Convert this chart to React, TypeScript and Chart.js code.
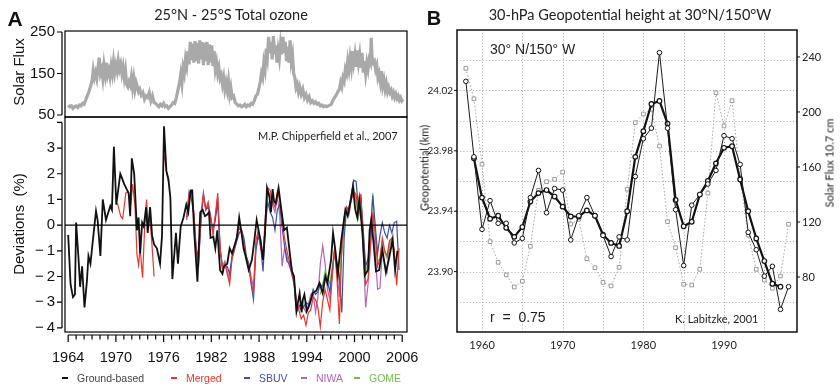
import React, { useEffect, useRef } from 'react';
import { Chart, registerables } from 'chart.js';
Chart.register(...registerables);

const HF = '"Liberation Sans", Arial, Helvetica, sans-serif';
const MF = 'Lato, "Open Sans", sans-serif';

// ---------- Panel A (top): solar flux ----------
const fluxYearsA = [1964.0,1964.2,1964.4,1964.6,1964.8,1965.0,1965.2,1965.4,1965.6,1965.8,1966.0,1966.2,1966.4,1966.6,1966.8,1967.0,1967.15,1967.3,1967.45,1967.6,1967.75,1967.9,1968.05,1968.2,1968.35,1968.5,1968.65,1968.8,1968.95,1969.1,1969.25,1969.4,1969.55,1969.7,1969.85,1970.0,1970.15,1970.3,1970.45,1970.6,1970.75,1970.9,1971.05,1971.2,1971.35,1971.5,1971.65,1971.8,1971.95,1972.1,1972.25,1972.4,1972.55,1972.7,1972.85,1973.0,1973.2,1973.4,1973.6,1973.8,1974.0,1974.2,1974.4,1974.6,1974.8,1975.0,1975.2,1975.4,1975.6,1975.8,1976.0,1976.2,1976.4,1976.6,1976.8,1977.0,1977.2,1977.4,1977.6,1977.8,1978.0,1978.15,1978.3,1978.45,1978.6,1978.75,1978.9,1979.05,1979.2,1979.35,1979.5,1979.65,1979.8,1979.95,1980.1,1980.25,1980.4,1980.55,1980.7,1980.85,1981.0,1981.15,1981.3,1981.45,1981.6,1981.75,1981.9,1982.05,1982.2,1982.35,1982.5,1982.65,1982.8,1982.95,1983.1,1983.25,1983.4,1983.55,1983.7,1983.85,1984.0,1984.15,1984.3,1984.45,1984.6,1984.8,1985.0,1985.2,1985.4,1985.6,1985.8,1986.0,1986.2,1986.4,1986.6,1986.8,1987.0,1987.2,1987.4,1987.6,1987.8,1988.0,1988.15,1988.3,1988.45,1988.6,1988.75,1988.9,1989.05,1989.2,1989.35,1989.5,1989.65,1989.8,1989.95,1990.1,1990.25,1990.4,1990.55,1990.7,1990.85,1991.0,1991.15,1991.3,1991.45,1991.6,1991.75,1991.9,1992.05,1992.2,1992.35,1992.5,1992.65,1992.8,1992.95,1993.1,1993.3,1993.5,1993.7,1993.9,1994.1,1994.3,1994.5,1994.7,1994.9,1995.1,1995.3,1995.5,1995.7,1995.9,1996.1,1996.3,1996.5,1996.7,1996.9,1997.1,1997.3,1997.5,1997.7,1997.9,1998.1,1998.25,1998.4,1998.55,1998.7,1998.85,1999.0,1999.15,1999.3,1999.45,1999.6,1999.75,1999.9,2000.05,2000.2,2000.35,2000.5,2000.65,2000.8,2000.95,2001.1,2001.25,2001.4,2001.55,2001.7,2001.85,2002.0,2002.1,2002.2,2002.35,2002.5,2002.65,2002.8,2002.95,2003.1,2003.25,2003.4,2003.55,2003.7,2003.85,2004.0,2004.15,2004.3,2004.45,2004.6,2004.75,2004.9,2005.05,2005.2,2005.35,2005.5,2005.65,2005.8,2005.95,2006.1];
const fluxValsA = [74,70,72,66,70,72,68,74,72,78,76,86,96,106,118,132,158,140,152,138,164,188,150,160,138,170,148,176,146,158,142,168,150,178,152,170,156,180,160,172,150,166,140,158,124,118,130,122,142,116,138,112,128,118,106,112,98,104,88,96,92,104,84,96,80,78,74,70,76,72,78,70,72,66,70,74,80,78,92,110,128,148,126,164,150,184,168,204,172,226,182,222,176,228,180,224,174,230,184,226,170,224,180,226,170,220,176,218,168,204,160,176,150,164,138,146,124,140,112,128,110,132,100,116,92,96,80,76,72,74,70,72,76,70,74,72,78,76,84,96,100,116,130,150,140,176,160,210,190,238,200,226,184,240,196,218,176,206,186,220,196,238,200,226,180,214,176,230,180,196,150,140,116,124,106,118,100,112,92,100,86,94,80,84,78,82,76,78,72,74,70,72,70,72,74,76,86,92,98,106,112,128,118,140,132,160,150,180,160,188,166,204,176,196,166,206,176,196,164,200,152,180,150,176,160,184,176,236,190,176,180,160,170,140,150,130,156,120,134,112,126,106,116,104,110,96,104,92,100,90,96,86,92,84,88];
const fluxTicksA = [50, 150, 250];

// ---------- Panel A (bottom): ozone deviations ----------
const gbYears = [1964.0,1964.3,1964.6,1964.85,1965.0,1965.3,1965.5,1965.75,1966.05,1966.35,1966.55,1966.8,1967.1,1967.5,1967.7,1968.05,1968.35,1968.75,1969.0,1969.3,1969.5,1969.75,1970.05,1970.55,1970.8,1971.05,1971.35,1971.6,1971.8,1972.0,1972.3,1972.65,1972.85,1973.05,1973.3,1973.5,1973.8,1974.0,1974.3,1974.55,1974.8,1975.15,1975.55,1975.8,1976.05,1976.35,1976.6,1976.85,1977.1,1977.55,1977.8,1978.15,1978.5,1978.85,1979.1,1979.4,1979.6,1979.85,1980.25,1980.6,1980.9,1981.2,1981.45,1981.7,1981.9,1982.25,1982.5,1982.75,1983.1,1983.4,1983.6,1984.0,1984.3,1984.6,1985.2,1985.5,1985.75,1986.05,1986.3,1986.7,1987.1,1987.4,1987.7,1988.0,1988.2,1988.5,1988.75,1989.0,1989.3,1989.5,1989.7,1989.9,1990.1,1990.45,1990.8,1991.15,1991.5,1991.9,1992.15,1992.4,1992.7,1993.1,1993.35,1993.5,1993.7,1994.0,1994.35,1994.75,1995.2,1995.6,1996.0,1996.35,1996.6,1997.05,1997.3,1997.6,1997.9,1998.1,1998.35,1998.85,1999.15,1999.6,1999.8,2000.1,2000.35,2000.6,2001.0,2001.3,2001.7,2001.9,2002.1,2002.4,2002.7,2003.1,2003.5,2003.95,2004.4,2004.8,2005.1,2005.4];
const gbVals = [-0.38,-2.3,-2.8,-2.7,0.1,-1.3,-2.4,-1.6,-3.2,-2.2,-1.2,-1.5,-0.6,0.55,0.2,-1.2,1.0,0.2,0.45,0.75,0.6,3.05,0.8,2.0,1.8,1.6,1.4,1.25,0.35,2.6,2.0,-0.2,0.3,-1.1,0.1,-0.05,0.7,-0.3,0.7,-0.4,-0.75,-0.9,-1.5,-0.4,3.85,2.1,1.8,1.05,-2.1,-0.3,-1.5,-0.05,0.3,0.8,0.5,1.35,1.35,-0.3,-2.2,0.5,0.6,0.35,0.4,0.5,-0.5,-0.45,-0.9,-0.2,-1.75,-1.9,-1.6,-1.5,-0.9,-1.1,-0.5,0.3,-0.2,-0.9,-1.2,-1.75,-1.35,-0.6,0.2,-0.3,-0.6,-1.35,-0.3,1.45,1.1,0.5,1.4,0.9,0.85,1.45,0.6,-0.2,-0.1,-1.2,-1.8,-2.0,-3.35,-2.65,-3.4,-2.9,-2.7,-3.35,-3.1,-2.65,-2.55,-2.25,-2.65,-2.0,-2.25,-1.35,-0.3,-1.0,-1.9,-1.3,-0.55,0.6,0.35,1.1,1.5,0.6,0.3,1.0,-0.3,-1.95,-1.75,-0.2,0.2,-0.7,-1.8,-1.75,-0.95,-1.85,-1.2,-0.55,-1.75,-1.0];

const satYears = [
  1978.9,1979.2,1979.5,1979.8,1980.1,1980.4,1980.7,1981.0,1981.3,1981.6,
  1981.9,1982.2,1982.5,1982.8,1983.1,1983.4,1983.7,1984.0,1984.3,1984.6,
  1984.9,1985.2,1985.5,1985.8,1986.1,1986.4,1986.7,1987.0,1987.3,1987.6,
  1987.9,1988.2,1988.5,1988.8,1989.1,1989.4,1989.7,1990.0,1990.3,1990.6,
  1990.9,1991.2,1991.5,1991.8,1992.1,1992.4,1992.7,1993.0,1993.3,1993.6,
  1993.9,1994.2,1994.5,1994.8,1995.1,1995.4,1995.7,1996.0,1996.3,1996.6,
  1996.9,1997.2,1997.5,1997.8,1998.1,1998.4,1998.7,1999.0,1999.3,1999.6,
  1999.9,2000.2,2000.5,2000.8,2001.1,2001.4,2001.7,2002.0,2002.3,2002.6,
  2002.9,2003.2,2003.5,2003.8,2004.1,2004.4,2004.7,2005.0,2005.3,2005.6];

const mergedEarlyYears = [1970.2,1970.6,1970.85,1971.25,1971.5,1971.9,1972.1,1972.4,1972.65,1972.85,1973.05,1973.35,1973.6,1973.85,1974.05,1974.25,1974.5,1974.8,1975.0,1976.05,1976.35,1976.6,1977.0];
const mergedEarlyVals = [0.85,0.35,0.25,1.25,1.3,0.9,1.6,0.75,-1.15,-1.55,-0.9,-2.05,-0.2,1.0,-0.05,0.3,-0.6,-2.0,null,2.75,2.1,1.7,null];
const mergedVals = [
  0.2,1.2,1.3,0.5,-1.0,-1.5,0.5,1.2,0.6,0.9,
  0.3,-0.3,0.4,1.25,-0.9,-1.7,-1.5,-1.9,-2.3,-1.3,
  -0.9,-0.4,-0.1,-0.3,-0.8,-1.3,-1.6,-2.2,-2.65,-0.6,
  -0.2,-0.9,-1.2,0.4,1.45,1.35,0.9,0.7,1.3,1.0,
  0.2,-0.5,-1.0,-1.4,-1.8,-2.2,-2.9,-3.3,-3.65,-3.5,
  -3.9,-3.4,-3.3,-2.8,-2.9,-3.2,-3.95,-3.0,-2.5,-2.9,
  -3.3,-2.0,-0.9,-2.1,-3.85,-0.8,0.3,0.7,0.5,1.0,
  1.3,1.2,0.5,1.2,-0.7,-2.3,-2.1,-0.8,0.5,-0.3,
  -1.6,-1.3,-0.5,-1.0,-1.2,-0.6,-0.5,-1.0,-2.35,-0.9];
const sbuvVals = [
  0.3,1.3,1.0,0.4,-0.9,-1.3,0.2,1.25,0.6,0.7,
  0.3,-0.2,0.2,0.9,-0.9,-1.7,-1.6,-1.6,-1.9,-1.2,
  -0.9,-0.6,-0.3,-0.2,-0.5,-1.2,-1.5,-2.3,-2.9,-1.0,
  -0.4,-0.8,-1.8,0.0,0.9,0.5,0.3,-0.2,0.6,0.8,
  -0.1,-0.8,-1.4,-1.5,-1.9,-2.3,-3.4,-3.2,-3.0,-3.2,
  -3.0,-3.1,-2.9,-2.5,-2.7,-2.6,-2.3,-2.4,-2.0,-2.2,
  -2.6,-1.8,-1.0,-1.5,-2.0,-3.4,-0.5,0.7,0.6,1.2,
  1.75,1.7,0.6,1.1,-0.2,-1.6,-1.3,-0.3,1.15,0.0,
  -1.1,-0.4,0.1,-0.3,-0.5,0.0,-0.3,0.1,0.15,-1.75];
const niwaVals = [
  0.3,1.1,1.2,0.4,-1.1,-1.5,0.2,1.1,0.6,0.8,
  0.4,-0.4,0.3,1.1,-0.9,-1.6,-1.4,-1.8,-2.1,-1.3,
  -1.0,-0.6,-0.3,-0.2,-0.7,-1.3,-1.5,-2.0,-2.4,-0.9,
  -0.3,-0.8,-1.3,0.2,1.3,1.2,0.8,0.5,1.1,0.4,
  -1.6,-0.9,-1.2,-1.6,-1.8,-2.2,-3.0,-3.2,-3.3,-3.2,
  -3.4,-3.1,-2.7,-2.6,-3.4,-2.8,-1.5,-0.8,-1.5,-2.5,
  -2.9,-1.9,-1.0,-1.8,-2.8,-1.0,0.1,0.6,0.4,1.0,
  1.3,1.0,0.4,0.9,-1.0,-3.2,-2.3,-0.9,0.4,-1.0,
  -2.5,-2.45,-1.0,-1.5,-1.8,-0.8,-0.6,-1.1,null,null];
const gomeYears = satYears.slice(56);
const gomeVals = [
  -2.7,-2.3,-1.8,-2.0,
  -2.3,-1.6,-0.9,-1.5,-2.2,-1.0,0.0,0.6,0.7,1.1,
  1.5,0.9,0.3,1.0,-0.4,-1.8,-1.5,-0.4,1.25,-0.2,
  -1.4,-1.3,-0.6,-1.1,-1.3,-0.7,-0.5,-1.0,null,null];
const devTicks = [-4, -3, -2, -1, 0, 1, 2, 3];
const yearTicksA = [1964, 1970, 1976, 1982, 1988, 1994, 2000, 2006];

// ---------- Panel B ----------
const yearsB = [1958,1959,1960,1961,1962,1963,1964,1965,1966,1967,1968,1969,1970,1971,1972,1973,1974,1975,1976,1977,1978,1979,1980,1981,1982,1983,1984,1985,1986,1987,1988,1989,1990,1991,1992,1993,1994,1995,1996,1997,1998];
const rawHeightB = [24.026,23.976,23.928,23.947,23.932,23.932,23.919,23.922,23.949,23.967,23.939,23.955,23.954,23.921,23.937,23.949,23.937,23.924,23.910,23.923,23.921,23.963,23.988,23.995,24.045,23.995,23.941,23.904,23.944,23.951,23.958,23.967,23.990,23.988,23.971,23.926,23.9145,23.897,23.9035,23.875,23.890];
const smoothYearsB = yearsB.slice(1, 40);
const smoothHeightB = [23.975,23.949,23.935,23.937,23.929,23.923,23.9295,23.9464,23.952,23.954,23.9497,23.943,23.9365,23.9365,23.9405,23.937,23.9244,23.919,23.917,23.940,23.976,23.993,24.011,24.013,23.998,23.9475,23.930,23.933,23.951,23.960,23.9717,23.982,23.983,23.961,23.940,23.922,23.907,23.892,23.890];
const fluxB = [231.7,209.6,162,105.7,90.7,81.5,72.7,76.9,102.3,143,149.3,151,156.3,118.5,122,93.3,86.8,76.1,73.5,87,143.8,192.2,198.5,201.9,175.2,120.2,101.3,74.7,74.2,85.6,141,214,189.8,208.2,152,110.5,85.6,77.8,71.8,80.7,118.3];
const heightTicksB = [23.90, 23.94, 23.98, 24.02];
const heightGridB = [23.88, 23.90, 23.92, 23.94, 23.96, 23.98, 24.00, 24.02, 24.04];
const fluxTicksB = [80, 120, 160, 200, 240];
const yearTicksB = [1960, 1970, 1980, 1990];
const yearGridB = [1960, 1965, 1970, 1975, 1980, 1985, 1990, 1995];

const pts = (xs: number[], ys: (number | null)[]) => xs.map((x, i) => ({ x, y: ys[i] }));
const minus = (v: number) => (v < 0 ? '\u2212\u2009' + Math.abs(v) : String(v));

const rAxisA = (ticks: number[], xTicks?: number[], zero?: boolean) => ({
  id: 'rAxis',
  afterDatasetsDraw(chart: any) {
    const { ctx, chartArea: { left, right, top, bottom }, scales } = chart;
    const y = scales.y, x = scales.x;
    ctx.save();
    ctx.strokeStyle = '#000';
    ctx.lineWidth = 1.2;
    ctx.strokeRect(left, top, right - left, bottom - top);
    if (zero) {
      const p = y.getPixelForValue(0);
      ctx.lineWidth = 1.4;
      ctx.beginPath(); ctx.moveTo(left, p); ctx.lineTo(right, p); ctx.stroke();
    }
    ctx.lineWidth = 1.2;
    const ax = left - 3;
    ctx.beginPath();
    ctx.moveTo(ax, y.getPixelForValue(ticks[0]));
    ctx.lineTo(ax, y.getPixelForValue(ticks[ticks.length - 1]));
    for (const v of ticks) {
      const p = y.getPixelForValue(v);
      ctx.moveTo(ax, p); ctx.lineTo(ax - 5, p);
    }
    ctx.stroke();
    if (xTicks) {
      const ay = bottom + 3;
      ctx.beginPath();
      ctx.moveTo(x.getPixelForValue(xTicks[0]), ay);
      ctx.lineTo(x.getPixelForValue(xTicks[xTicks.length - 1]), ay);
      for (let yr = xTicks[0]; yr <= xTicks[xTicks.length - 1]; yr++) {
        const p = x.getPixelForValue(yr);
        const major = xTicks.includes(yr);
        ctx.moveTo(p, ay); ctx.lineTo(p, ay + (major ? 7 : 4.5));
      }
      ctx.stroke();
    }
    ctx.restore();
  },
});

const gridB = {
  id: 'gridB',
  beforeDatasetsDraw(chart: any) {
    const { ctx, chartArea: { left, right, top, bottom }, scales: { x, y } } = chart;
    ctx.save();
    ctx.strokeStyle = '#a8a8a8';
    ctx.lineWidth = 1;
    ctx.setLineDash([1, 2.2]);
    ctx.beginPath();
    for (const v of yearGridB) { const p = Math.round(x.getPixelForValue(v)) + 0.5; ctx.moveTo(p, top); ctx.lineTo(p, bottom); }
    for (const v of heightGridB) { const p = Math.round(y.getPixelForValue(v)) + 0.5; ctx.moveTo(left, p); ctx.lineTo(right, p); }
    ctx.stroke();
    ctx.restore();
  },
  afterDatasetsDraw(chart: any) {
    const { ctx, chartArea: { left, right, top, bottom }, scales: { y, y2 } } = chart;
    ctx.save();
    ctx.strokeStyle = '#111';
    ctx.lineWidth = 1.5;
    ctx.strokeRect(left, top, right - left, bottom - top);
    ctx.lineWidth = 1;
    ctx.beginPath();
    for (const v of heightTicksB) { const p = y.getPixelForValue(v); ctx.moveTo(left, p); ctx.lineTo(left - 3, p); }
    for (const v of fluxTicksB) { const p = y2.getPixelForValue(v); ctx.moveTo(right, p); ctx.lineTo(right + 3, p); }
    ctx.stroke();
    ctx.restore();
  },
};

const setTicks = (vals: number[]) => (s: any) => { s.ticks = vals.map((v) => ({ value: v })); };
const noGrid = { display: false, drawTicks: false, tickLength: 0 };

function Txt(props: { x: number; y: number; children: any; style?: any; center?: boolean; rot?: boolean }) {
  const { x, y, children, style, center, rot } = props;
  const tr = rot ? 'translate(-50%,-50%) rotate(-90deg)' : center ? 'translate(-50%,-50%)' : 'translate(0,-50%)';
  return (
    <div style={{ position: 'absolute', left: x, top: y, transform: tr, whiteSpace: 'pre', lineHeight: 1, ...style }}>
      {children}
    </div>
  );
}

export default function App() {
  const a1 = useRef<HTMLCanvasElement>(null);
  const a2 = useRef<HTMLCanvasElement>(null);
  const b = useRef<HTMLCanvasElement>(null);

  useEffect(() => {
    const common = { animation: false as const, responsive: false, maintainAspectRatio: false, events: [] as any[],
      plugins: { legend: { display: false }, tooltip: { enabled: false } } };

    const cA1 = new Chart(a1.current!, {
      type: 'line',
      data: { datasets: [{ data: pts(fluxYearsA, fluxValsA), borderColor: '#a9a9a9', borderWidth: 3.2, pointRadius: 0, tension: 0 }] },
      options: {
        ...common,
        layout: { padding: { left: 0, top: 31, right: 13, bottom: 28 } },
        scales: {
          x: { type: 'linear', min: 1963.6, max: 2006.6, display: false },
          y: { min: 45.2, max: 252.4, afterBuildTicks: setTicks(fluxTicksA), afterFit: (s: any) => { s.width = 65; },
            grid: noGrid, border: { display: false },
            ticks: { padding: 10, color: '#111', font: { family: HF, size: 15 } } },
        },
      } as any,
      plugins: [rAxisA(fluxTicksA)],
    });

    const cA2 = new Chart(a2.current!, {
      type: 'line',
      data: {
        datasets: [
          { data: pts(gbYears, gbVals), borderColor: '#111', borderWidth: 1.8 },
          { data: pts([...mergedEarlyYears, ...satYears], [...mergedEarlyVals, ...mergedVals]), borderColor: '#e8362c', borderWidth: 1.2 },
          { data: pts(satYears, sbuvVals), borderColor: '#3d4fa6', borderWidth: 1.2 },
          { data: pts(gomeYears, gomeVals), borderColor: '#70c04a', borderWidth: 1.2 },
          { data: pts(satYears, niwaVals), borderColor: '#b565b3', borderWidth: 1.2 },
        ].map((d) => ({ ...d, pointRadius: 0, tension: 0, spanGaps: false })),
      },
      options: {
        ...common,
        layout: { padding: { left: 0, top: 27, right: 33, bottom: 0 } },
        scales: {
          x: { type: 'linear', min: 1963.6, max: 2006.6, afterBuildTicks: setTicks(yearTicksA), afterFit: (s: any) => { s.height = 59; },
            grid: noGrid, border: { display: false },
            ticks: { padding: 17, color: '#111', maxRotation: 0, autoSkip: false, font: { family: HF, size: 14.5 }, callback: (v: any) => String(v) } },
          y: { min: -4.16, max: 4.21, afterBuildTicks: setTicks(devTicks), afterFit: (s: any) => { s.width = 65; },
            grid: noGrid, border: { display: false },
            ticks: { padding: 10, color: '#111', font: { family: HF, size: 15 }, callback: (v: any) => minus(v) } },
        },
      } as any,
      plugins: [rAxisA([-4, -3, -2, -1, 0, 1, 2, 3, 4], yearTicksA, true)],
    });

    const cB = new Chart(b.current!, {
      type: 'line',
      data: {
        datasets: [
          { data: pts(yearsB, rawHeightB), yAxisID: 'y', borderColor: '#1a1a1a', borderWidth: 1, pointRadius: 2.3, pointBorderWidth: 1, pointBackgroundColor: '#fff', pointBorderColor: '#111' },
          { data: pts(smoothYearsB, smoothHeightB), yAxisID: 'y', borderColor: '#111', borderWidth: 2.2, pointRadius: 2.3, pointBorderWidth: 1.2, pointBackgroundColor: '#fff', pointBorderColor: '#111' },
          { data: pts(yearsB, fluxB), yAxisID: 'y2', borderColor: '#a6a6a6', borderWidth: 1, borderDash: [1.5, 2], pointStyle: 'rect', pointRadius: 2.6, pointBorderWidth: 1, pointBackgroundColor: '#fff', pointBorderColor: '#9a9a9a' },
        ].map((d) => ({ ...d, tension: 0 })),
      },
      options: {
        ...common,
        layout: { padding: { left: 0, top: 30, right: 0, bottom: 0 } },
        scales: {
          x: { type: 'linear', min: 1956.9, max: 1999.05, afterBuildTicks: setTicks(yearTicksB), afterFit: (s: any) => { s.height = 59; },
            grid: noGrid, border: { display: false },
            ticks: { padding: 7, color: '#222', maxRotation: 0, autoSkip: false, font: { family: MF, size: 11 }, callback: (v: any) => String(v) } },
          y: { position: 'left', min: 23.86, max: 24.06, afterBuildTicks: setTicks(heightTicksB), afterFit: (s: any) => { s.width = 37; },
            grid: noGrid, border: { display: false },
            ticks: { padding: 4, color: '#222', font: { family: MF, size: 10 }, callback: (v: any) => Number(v).toFixed(2) } },
          y2: { position: 'right', min: 40, max: 259.6, afterBuildTicks: setTicks(fluxTicksB), afterFit: (s: any) => { s.width = 43; },
            grid: noGrid, border: { display: false },
            ticks: { padding: 5, color: '#222', font: { family: MF, size: 11 }, callback: (v: any) => String(v) } },
        },
      } as any,
      plugins: [gridB],
    });

    return () => { cA1.destroy(); cA2.destroy(); cB.destroy(); };
  }, []);

  const legend = [
    { n: 'Ground-based', c: '#111', t: '#444', x: 62 },
    { n: 'Merged', c: '#e8362c', t: '#e8362c', x: 171 },
    { n: 'SBUV', c: '#3d4fa6', t: '#3d4fa6', x: 244 },
    { n: 'NIWA', c: '#b565b3', t: '#b565b3', x: 301 },
    { n: 'GOME', c: '#70c04a', t: '#70c04a', x: 354 },
  ];

  return (
    <div style={{ position: 'fixed', left: 0, top: 0, width: 840, height: 391, background: '#fff', overflow: 'hidden', color: '#111' }}>
      <canvas ref={a1} width={420} height={145} style={{ position: 'absolute', left: 0, top: 0 }} />
      <canvas ref={a2} width={440} height={301} style={{ position: 'absolute', left: 0, top: 90 }} />
      <canvas ref={b} width={420} height={391} style={{ position: 'absolute', left: 420, top: 0 }} />

      <Txt x={15} y={19} center style={{ font: `bold 21px ${HF}` }}>A</Txt>
      <Txt x={231} y={14} center style={{ font: `14.5px ${MF}`, color: '#222' }}>25°N - 25°S Total ozone</Txt>
      <Txt x={18} y={72} rot style={{ font: `15px ${HF}` }}>Solar Flux</Txt>
      <Txt x={18} y={224} rot style={{ font: `15px ${HF}` }}>Deviations  (%)</Txt>
      <Txt x={258} y={135} style={{ font: `11px ${MF}`, color: '#222' }}>M.P. Chipperfield et al., 2007</Txt>
      {legend.map((l) => (
        <div key={l.n} style={{ position: 'absolute', left: l.x, top: 372, height: 12, display: 'flex', alignItems: 'center', whiteSpace: 'nowrap' }}>
          <div style={{ width: 6, height: 1.5, background: l.c, marginRight: 9 }} />
          <span style={{ font: `10.5px ${HF}`, color: l.t }}>{l.n}</span>
        </div>
      ))}

      <Txt x={434} y={18} center style={{ font: `bold 20px ${HF}` }}>B</Txt>
      <Txt x={630} y={14} center style={{ font: `14.5px ${MF}`, color: '#222' }}>30-hPa Geopotential height at 30°N/150°W</Txt>
      <Txt x={424} y={168} rot style={{ font: `11px ${MF}`, color: '#222' }}>Geopotential (km)</Txt>
      <Txt x={829} y={163} rot style={{ font: `11px ${MF}`, color: '#222' }}>Solar Flux 10.7 cm</Txt>
      <Txt x={490} y={49} style={{ font: `14px ${HF}`, color: '#222' }}>30° N/150° W</Txt>
      <Txt x={490} y={317} style={{ font: `14px ${HF}`, color: '#222' }}>r  =  0.75</Txt>
      <Txt x={675} y={318} style={{ font: `11px ${MF}`, color: '#222' }}>K. Labitzke, 2001</Txt>
    </div>
  );
}
